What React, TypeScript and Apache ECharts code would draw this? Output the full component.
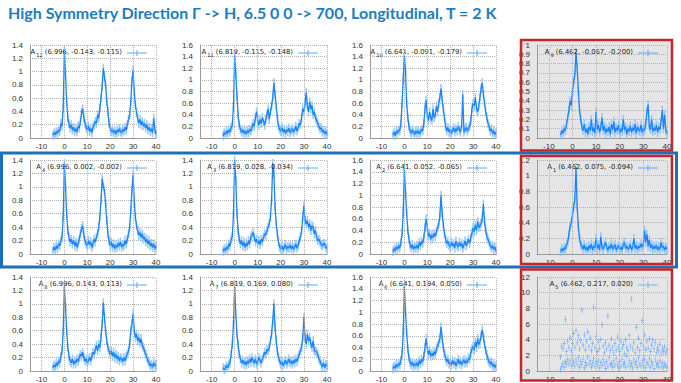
import React, { useEffect, useRef } from "react";
import * as echarts from "echarts";

// ---------- data ----------
const titleText = "High Symmetry Direction Γ -> H, 6.5 0 0 -> 700, Longitudinal, T = 2 K";

// energy grid (meV), -5 .. 40 in 0.5 steps
const energy: number[] = Array.from({ length: 91 }, (_, i) => -5 + i * 0.5);

const xTicks = [-10, 0, 10, 20, 30, 40];

const panelSubs = ["12", "11", "10", "9", "4", "3", "2", "1", "8", "7", "6", "5"];
const panelCoords = [
  "(6.996, -0.143, -0.115)", "(6.819, -0.115, -0.148)", "(6.641, -0.091, -0.179)", "(6.462, -0.067, -0.200)",
  "(6.996, 0.002, -0.002)", "(6.819, 0.028, -0.034)", "(6.641, 0.052, -0.065)", "(6.462, 0.075, -0.094)",
  "(6.996, 0.143, 0.113)", "(6.819, 0.169, 0.080)", "(6.641, 0.194, 0.050)", "(6.462, 0.217, 0.020)",
];
const yMaxes = [1.4, 1.6, 1.6, 1.0, 1.4, 1.4, 1.6, 1.2, 1.4, 1.4, 1.6, 12];
const yIntervals = [0.2, 0.2, 0.2, 0.1, 0.2, 0.2, 0.2, 0.2, 0.2, 0.2, 0.2, 2];

const a12 = [0.04,0.08,0.05,0.10,0.07,0.12,0.10,0.22,0.18,0.45,
  1.32,0.95,0.55,0.30,0.22,0.15,0.20,0.12,0.16,0.10,
  0.14,0.09,0.18,0.15,0.25,0.38,0.44,0.30,0.22,0.16,
  0.12,0.18,0.10,0.14,0.08,0.16,0.20,0.25,0.22,0.35,
  0.30,0.45,0.60,0.78,1.05,0.92,0.80,0.55,0.40,0.22,
  0.15,0.10,0.12,0.08,0.11,0.06,0.12,0.09,0.14,0.10,
  0.08,0.13,0.10,0.16,0.12,0.20,0.28,0.35,0.55,0.85,
  1.02,0.70,0.50,0.38,0.30,0.22,0.28,0.20,0.25,0.18,
  0.22,0.15,0.20,0.12,0.16,0.10,0.14,0.08,0.30,0.12,
  0.06];
const a11 = [0.04,0.09,0.06,0.12,0.08,0.14,0.10,0.18,0.22,0.55,
  1.42,1.10,0.72,0.40,0.22,0.15,0.10,0.14,0.08,0.12,
  0.07,0.13,0.09,0.15,0.12,0.18,0.25,0.20,0.35,0.45,
  0.30,0.22,0.32,0.25,0.35,0.28,0.22,0.33,0.40,0.50,
  0.32,0.45,0.55,0.70,0.95,0.75,0.55,0.35,0.20,0.15,
  0.12,0.18,0.10,0.15,0.08,0.14,0.11,0.17,0.09,0.13,
  0.16,0.10,0.14,0.20,0.12,0.18,0.25,0.22,0.35,0.50,
  0.45,0.60,0.78,0.55,0.45,0.62,0.50,0.56,0.40,0.45,
  0.35,0.30,0.25,0.20,0.15,0.18,0.10,0.13,0.08,0.11,
  0.06];
const a10 = [0.05,0.10,0.04,0.12,0.08,0.14,0.12,0.25,0.60,1.00,
  1.42,1.15,0.60,0.35,0.20,0.12,0.08,0.14,0.10,0.06,
  0.12,0.08,0.13,0.07,0.10,0.15,0.12,0.25,0.50,0.65,
  0.40,0.30,0.45,0.35,0.30,0.50,0.35,0.40,0.55,0.45,
  0.60,0.70,0.85,0.65,0.50,0.35,0.20,0.12,0.18,0.10,
  0.15,0.08,0.13,0.18,0.10,0.16,0.12,0.20,0.14,0.10,
  0.22,0.75,0.10,0.15,0.18,0.12,0.16,0.20,0.30,0.50,
  0.60,0.55,0.70,0.50,0.45,0.55,0.70,0.85,0.95,0.75,
  0.60,0.45,0.35,0.25,0.20,0.12,0.16,0.08,0.12,0.06,
  0.10];
const a9 = [0.03,0.08,0.05,0.10,0.08,0.15,0.22,0.30,0.40,0.35,
  0.50,0.60,0.68,0.92,0.75,0.50,0.30,0.20,0.12,0.08,
  0.15,0.06,0.10,0.04,0.12,0.08,0.20,0.07,0.11,0.05,
  0.28,0.09,0.14,0.06,0.12,0.22,0.08,0.13,0.05,0.10,
  0.07,0.12,0.04,0.15,0.09,0.18,0.06,0.11,0.08,0.14,
  0.05,0.10,0.07,0.20,0.09,0.12,0.04,0.10,0.07,0.13,
  0.06,0.11,0.08,0.15,0.05,0.12,0.09,0.07,0.14,0.06,
  0.10,0.08,0.16,0.28,0.36,0.12,0.09,0.20,0.07,0.11,
  0.08,0.14,0.06,0.12,0.09,0.18,0.30,0.10,0.25,0.08,
  0.05];
const a4 = [0.05,0.10,0.06,0.12,0.08,0.15,0.12,0.20,0.25,0.55,
  1.35,1.00,0.60,0.35,0.25,0.18,0.22,0.15,0.20,0.12,
  0.18,0.10,0.16,0.22,0.30,0.38,0.42,0.28,0.20,0.15,
  0.12,0.20,0.14,0.18,0.10,0.15,0.22,0.18,0.25,0.30,
  0.40,0.55,0.80,1.12,1.00,0.95,0.75,0.50,0.30,0.20,
  0.12,0.18,0.10,0.15,0.08,0.13,0.10,0.16,0.12,0.18,
  0.10,0.14,0.12,0.20,0.15,0.22,0.30,0.40,0.65,0.95,
  1.18,0.80,0.55,0.42,0.35,0.28,0.32,0.25,0.30,0.22,
  0.25,0.18,0.22,0.15,0.20,0.12,0.16,0.10,0.15,0.08,
  0.12];
const a3 = [0.04,0.08,0.05,0.10,0.07,0.15,0.12,0.22,0.26,0.60,
  1.40,1.10,0.60,0.35,0.22,0.15,0.20,0.12,0.18,0.10,
  0.16,0.12,0.20,0.15,0.25,0.28,0.32,0.25,0.18,0.22,
  0.15,0.20,0.14,0.22,0.18,0.25,0.30,0.28,0.35,0.40,
  0.45,0.55,0.80,1.35,1.20,0.70,0.45,0.30,0.18,0.10,
  0.08,0.12,0.06,0.10,0.14,0.07,0.11,0.09,0.13,0.08,
  0.12,0.07,0.10,0.15,0.09,0.13,0.20,0.25,0.35,0.55,
  0.72,0.50,0.45,0.50,0.40,0.45,0.35,0.42,0.40,0.30,
  0.35,0.25,0.20,0.22,0.18,0.14,0.12,0.16,0.15,0.10,
  0.08];
const a2 = [0.04,0.09,0.06,0.12,0.08,0.14,0.10,0.20,0.35,0.70,
  1.45,1.05,0.70,0.40,0.25,0.15,0.10,0.16,0.08,0.13,
  0.10,0.15,0.09,0.20,0.14,0.22,0.18,0.28,0.45,0.60,
  0.45,0.30,0.35,0.25,0.32,0.28,0.35,0.30,0.38,0.45,
  0.50,0.65,1.00,0.70,0.50,0.35,0.25,0.18,0.22,0.15,
  0.12,0.20,0.14,0.18,0.10,0.22,0.15,0.12,0.20,0.14,
  0.18,0.10,0.16,0.22,0.14,0.20,0.25,0.18,0.28,0.35,
  0.45,0.38,0.50,0.40,0.55,0.45,0.48,0.52,0.60,0.85,
  0.55,0.40,0.30,0.25,0.20,0.15,0.10,0.14,0.08,0.12,
  0.05];
const a1 = [0.03,0.07,0.04,0.08,0.06,0.12,0.15,0.25,0.35,0.40,
  0.50,0.60,0.70,1.10,0.60,0.35,0.20,0.12,0.10,0.06,
  0.12,0.05,0.09,0.04,0.11,0.07,0.13,0.05,0.10,0.08,
  0.20,0.07,0.12,0.05,0.22,0.09,0.06,0.11,0.15,0.08,
  0.05,0.10,0.07,0.13,0.06,0.09,0.12,0.05,0.08,0.11,
  0.06,0.09,0.05,0.12,0.15,0.07,0.10,0.06,0.08,0.12,
  0.05,0.09,0.20,0.07,0.11,0.06,0.10,0.08,0.13,0.09,
  0.12,0.30,0.15,0.25,0.10,0.18,0.08,0.12,0.06,0.10,
  0.07,0.11,0.05,0.09,0.06,0.15,0.08,0.10,0.05,0.09,
  0.06];
const a8 = [0.05,0.09,0.06,0.12,0.08,0.15,0.12,0.22,0.30,0.60,
  1.25,0.95,0.60,0.35,0.22,0.15,0.12,0.18,0.10,0.15,
  0.12,0.18,0.14,0.20,0.25,0.22,0.28,0.20,0.15,0.18,
  0.12,0.16,0.20,0.15,0.22,0.28,0.25,0.32,0.38,0.30,
  0.40,0.35,0.50,0.70,1.02,0.80,0.60,0.45,0.35,0.30,
  0.25,0.30,0.22,0.28,0.20,0.25,0.18,0.22,0.15,0.20,
  0.18,0.14,0.20,0.15,0.22,0.25,0.30,0.40,0.60,0.70,
  0.85,0.60,0.50,0.55,0.45,0.50,0.42,0.48,0.38,0.35,
  0.30,0.25,0.20,0.15,0.12,0.08,0.10,0.06,0.12,0.08,
  0.10];
const a7 = [0.05,0.02,0.04,0.08,0.05,0.10,0.12,0.25,0.40,0.70,
  1.25,0.85,0.55,0.40,0.25,0.18,0.12,0.16,0.10,0.14,
  0.09,0.15,0.11,0.18,0.13,0.20,0.15,0.12,0.18,0.10,
  0.14,0.20,0.16,0.12,0.18,0.22,0.28,0.25,0.32,0.30,
  0.35,0.45,0.55,0.75,1.00,0.65,0.45,0.30,0.20,0.15,
  0.10,0.14,0.08,0.12,0.16,0.10,0.13,0.18,0.12,0.15,
  0.10,0.16,0.12,0.18,0.14,0.20,0.25,0.30,0.35,0.50,
  0.80,0.50,0.40,0.55,0.45,0.50,0.40,0.35,0.45,0.30,
  0.30,0.28,0.25,0.18,0.15,0.10,0.06,0.12,0.05,0.10,
  0.08];
const a6 = [0.04,0.08,0.05,0.11,0.07,0.13,0.10,0.18,0.30,0.65,
  1.45,1.00,0.65,0.38,0.22,0.15,0.10,0.15,0.08,0.12,
  0.10,0.14,0.08,0.18,0.12,0.20,0.16,0.25,0.40,0.55,
  0.40,0.28,0.35,0.25,0.30,0.26,0.33,0.28,0.38,0.42,
  0.48,0.55,0.75,0.55,0.40,0.30,0.22,0.16,0.20,0.12,
  0.15,0.10,0.18,0.12,0.16,0.09,0.14,0.20,0.12,0.17,
  0.11,0.15,0.19,0.13,0.18,0.14,0.22,0.20,0.30,0.38,
  0.42,0.35,0.50,0.40,0.55,0.45,0.50,0.60,0.70,0.58,
  0.45,0.35,0.28,0.20,0.15,0.12,0.16,0.08,0.12,0.06,
  0.10];
// A5: scattered points (two clusters)
const a5Lower = [0.2,0.6,1.0,0.5,1.2,0.8,1.5,0.9,1.3,0.7,
  1.6,1.1,0.6,1.4,0.9,1.7,0.5,1.2,0.8,1.5,
  0.4,1.1,0.7,1.8,0.9,1.3,0.5,1.0,1.6,0.6,
  1.2,0.8,1.4,0.4,1.1,0.7,1.5,0.9,0.3,1.2,
  0.6,1.7,0.8,1.0,0.5,1.3,0.7,1.6,0.9,0.4,
  1.2,0.6,1.5,0.8,1.1,0.5,1.9,0.7,1.3,0.6,
  1.0,0.4,1.4,0.8,1.2,0.5,1.7,0.9,0.6,1.3,
  0.7,1.5,0.4,1.1,0.8,1.6,0.5,1.2,0.9,0.3,
  1.4,0.7,1.0,0.5,1.3,0.6,1.1,0.4,0.9,0.7,
  0.5];
const a5Upper = [1.8,3.2,2.8,3.5,6.6,2.5,3.8,3.0,4.2,2.6,
  3.5,4.8,3.0,5.2,3.6,4.5,2.8,3.9,7.8,3.3,
  4.6,2.7,3.8,5.0,3.1,4.2,2.6,3.5,8.1,3.0,
  4.4,2.5,3.7,2.9,4.0,5.9,3.2,2.4,3.6,2.8,
  7.0,3.3,2.6,4.1,3.0,2.3,3.5,2.7,4.3,3.1,
  2.5,3.8,2.9,3.4,2.2,4.0,3.0,2.6,4.5,3.2,
  9.2,2.8,3.6,2.4,5.6,3.0,4.2,2.6,3.5,6.4,
  3.1,4.6,2.7,3.8,2.9,4.1,2.5,3.3,4.0,2.8,
  3.6,2.4,3.0,2.6,3.4,2.2,2.9,2.5,3.1,2.3,
  2.7];

const panelValues: (number[] | null)[] = [a12, a11, a10, a9, a4, a3, a2, a1, a8, a7, a6, null];

// ---------- layout / style ----------
const colLeft = [30, 200, 370, 537];
const colRight = [156, 327, 496, 667];
const rowTop = [45, 160, 277];
const rowBottom = [138, 254, 371];
const W = 681;

const LINE_BLUE = "#1a84ff";
const ERR_BLUE = "#86bfff";
const labelFont = "Liberation Sans";
const legendFont = "DejaVu Sans";

const errSymbol = "path://M0,0H1V10H0Z";
const plusSymbol = "path://M4.5,0H5.5V10H4.5Z M2.5,4.5H7.5V5.5H2.5Z";
const legendIcon = "path://M0,3H20V4H0Z M9.5,0.5H10.5V6.5H9.5Z";

function buildOption() {
  const grids: any[] = [];
  const xAxes: any[] = [];
  const yAxes: any[] = [];
  const series: any[] = [];
  const legends: any[] = [];

  for (let k = 0; k < 12; k++) {
    const r = Math.floor(k / 4);
    const c = k % 4;
    const name = "A" + panelSubs[k];
    grids.push({
      left: colLeft[c],
      top: rowTop[r],
      width: colRight[c] - colLeft[c],
      height: rowBottom[r] - rowTop[r],
      containLabel: false,
    });
    xAxes.push({
      gridIndex: k,
      type: "value",
      min: -15,
      max: 40,
      interval: 5,
      axisLine: { show: true, onZero: false, lineStyle: { color: "#9a9a9a", width: 1 } },
      axisTick: { show: false },
      splitLine: { show: false },
      axisLabel: {
        margin: 4,
        fontSize: 8,
        fontFamily: labelFont,
        color: "#333",
        formatter: (v: number) => (xTicks.indexOf(v) >= 0 ? String(v) : ""),
      },
    });
    yAxes.push({
      gridIndex: k,
      type: "value",
      min: 0,
      max: yMaxes[k],
      interval: yIntervals[k],
      axisLine: { show: true, onZero: false, lineStyle: { color: "#9a9a9a", width: 1 } },
      axisTick: { show: false },
      splitLine: { show: true, lineStyle: { type: "dotted", color: "#b0b0b0", width: 1 } },
      axisLabel: { margin: 7, fontSize: 8, fontFamily: labelFont, color: "#333" },
    });

    const markLine = {
      silent: true,
      symbol: "none",
      label: { show: false },
      lineStyle: { type: "dotted", color: "#b0b0b0", width: 1 },
      emphasis: { disabled: true },
      data: xTicks.map((v) => ({ xAxis: v })),
    };

    const vals = panelValues[k];
    if (vals) {
      const pts = energy.map((x, i) => [x, vals[i]]);
      series.push({
        type: "scatter",
        name: name + " err",
        xAxisIndex: k,
        yAxisIndex: k,
        data: pts,
        symbol: errSymbol,
        symbolSize: [1.6, 9],
        itemStyle: { color: ERR_BLUE },
        silent: true,
        z: 1,
        markLine,
      });
      series.push({
        type: "line",
        name,
        xAxisIndex: k,
        yAxisIndex: k,
        data: pts,
        showSymbol: false,
        lineStyle: { color: LINE_BLUE, width: 1.3 },
        itemStyle: { color: "#5aa9ff" },
        silent: true,
        z: 3,
      });
    } else {
      const pts = energy.map((x, i) => [x, a5Lower[i]]).concat(energy.map((x, i) => [x, a5Upper[i]]));
      series.push({
        type: "scatter",
        name,
        xAxisIndex: k,
        yAxisIndex: k,
        data: pts,
        symbol: plusSymbol,
        symbolSize: [3, 6],
        itemStyle: { color: "#4a9bff" },
        silent: true,
        z: 3,
        markLine,
      });
    }

    const sub = panelSubs[k];
    const coords = panelCoords[k];
    legends.push({
      data: [{ name, icon: legendIcon }],
      right: W - (colRight[c] - 9),
      top: rowTop[r] + 3,
      padding: 0,
      itemWidth: 20,
      itemHeight: 7,
      align: "right",
      selectedMode: false,
      itemStyle: { color: "#5aa9ff" },
      formatter: () => `{a|A}{s|${sub}}{a| ${coords}}`,
      textStyle: {
        fontFamily: legendFont,
        fontSize: 6.8,
        color: "#222",
        rich: {
          a: { fontFamily: legendFont, fontSize: 6.8, color: "#222", verticalAlign: "top", lineHeight: 10 },
          s: { fontFamily: legendFont, fontSize: 5, color: "#222", verticalAlign: "top", lineHeight: 10, padding: [4, 0, 0, 1] },
        },
      },
    });
  }

  const redRows = [
    { y: 40, h: 110.5 },
    { y: 156, h: 108 },
    { y: 269.5, h: 111 },
  ];
  const graphic: any[] = [];
  redRows.forEach((rr) => {
    graphic.push({
      type: "rect",
      z: -10,
      silent: true,
      shape: { x: 521, y: rr.y, width: 151, height: rr.h },
      style: { fill: "#e5e5e5" },
    });
  });
  graphic.push({
    type: "rect",
    z: 100,
    silent: true,
    shape: { x: 1.5, y: 153, width: 675, height: 114 },
    style: { fill: "none", stroke: "#1f6fb6", lineWidth: 3 },
  });
  redRows.forEach((rr) => {
    graphic.push({
      type: "rect",
      z: 101,
      silent: true,
      shape: { x: 521, y: rr.y, width: 151, height: rr.h },
      style: { fill: "none", stroke: "#c1272d", lineWidth: 2.5 },
    });
  });

  return {
    animation: false,
    backgroundColor: "#ffffff",
    title: {
      text: titleText,
      left: 8,
      top: 4,
      padding: 0,
      textStyle: { fontFamily: "Lato", fontWeight: "bold", fontSize: 16, color: "#1b7dc0" },
    },
    grid: grids,
    xAxis: xAxes,
    yAxis: yAxes,
    legend: legends,
    series,
    graphic,
  };
}

export default function App() {
  const ref = useRef<HTMLDivElement>(null);
  useEffect(() => {
    if (!ref.current) return;
    const chart = echarts.init(ref.current, undefined, { renderer: "svg" });
    chart.setOption(buildOption() as any);
    return () => chart.dispose();
  }, []);
  return (
    <div
      ref={ref}
      style={{ position: "fixed", left: 0, top: 0, width: 681, height: 383, background: "#fff" }}
    />
  );
}
